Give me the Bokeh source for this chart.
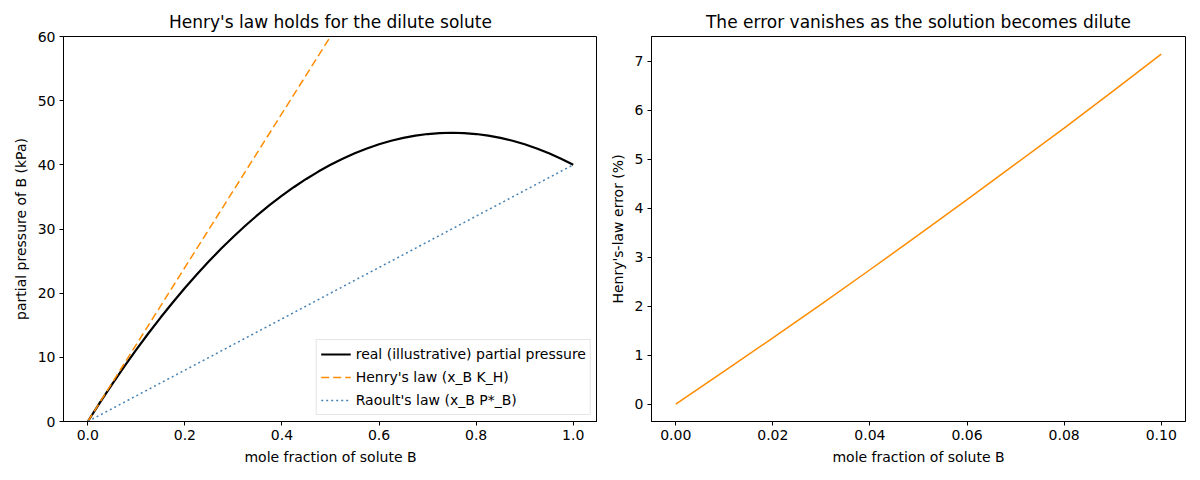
from bokeh.plotting import figure
from bokeh.layouts import row
from bokeh.models import FixedTicker, NumeralTickFormatter, Legend, LegendItem, Range1d
from bokeh.embed import file_html
from bokeh.resources import INLINE

# mole fraction of solute B and real partial pressure (kPa)
x_B = [0.0, 0.025, 0.05, 0.075, 0.10, 0.125, 0.15, 0.175, 0.20, 0.225, 0.25,
       0.275, 0.30, 0.325, 0.35, 0.375, 0.40, 0.425, 0.45, 0.475, 0.50,
       0.525, 0.55, 0.575, 0.60, 0.625, 0.65, 0.675, 0.70, 0.725, 0.75,
       0.775, 0.80, 0.825, 0.85, 0.875, 0.90, 0.925, 0.95, 0.975, 1.0]
p_real = [0.0, 2.95, 5.8, 8.55, 11.2, 13.75, 16.2, 18.55, 20.8, 22.95, 25.0,
          26.95, 28.8, 30.55, 32.2, 33.75, 35.2, 36.55, 37.8, 38.95, 40.0,
          40.95, 41.8, 42.55, 43.2, 43.75, 44.2, 44.55, 44.8, 44.95, 45.0,
          44.95, 44.8, 44.55, 44.2, 43.75, 43.2, 42.55, 41.8, 40.95, 40.0]

# straight-line laws (end points)
henry_x = [0.0, 1.0]
henry_p = [0.0, 120.0]
raoult_x = [0.0, 1.0]
raoult_p = [0.0, 40.0]

# Henry's-law error for the dilute end
x_dilute = [0.0, 0.01, 0.02, 0.03, 0.04, 0.05, 0.06, 0.07, 0.08, 0.09, 0.10]
err_pct = [0.0, 0.67, 1.35, 2.04, 2.74, 3.45, 4.17, 4.90, 5.63, 6.38, 7.14]

FONT = "DejaVu Sans"


def estilo(p, titulo, eixo_x, eixo_y):
    p.title.text = titulo
    p.title.text_font = FONT
    p.title.text_font_size = "17px"
    p.title.text_font_style = "normal"
    p.title.text_color = "black"
    p.title.align = "center"
    p.title.offset = 0
    p.grid.visible = False
    p.outline_line_color = "black"
    p.outline_line_width = 1
    p.background_fill_color = "white"
    p.border_fill_color = "white"
    p.xaxis.axis_label = eixo_x
    p.yaxis.axis_label = eixo_y
    for ax in p.xaxis + p.yaxis:
        ax.axis_label_text_font = FONT
        ax.axis_label_text_font_size = "14px"
        ax.axis_label_text_font_style = "normal"
        ax.axis_label_text_color = "black"
        ax.axis_label_standoff = 6
        ax.major_label_text_font = FONT
        ax.major_label_text_font_size = "14px"
        ax.major_label_text_color = "black"
        ax.major_label_standoff = 4
        ax.major_tick_in = 0
        ax.major_tick_out = 4
        ax.minor_tick_out = 0
        ax.minor_tick_in = 0
        ax.axis_line_color = "black"
        ax.major_tick_line_color = "black"


esquerda = figure(width=597, height=472, output_backend="svg", toolbar_location=None,
                  x_range=Range1d(-0.05, 1.05), y_range=Range1d(0, 60),
                  min_border_left=63, min_border_right=0, min_border_top=36, min_border_bottom=51)
estilo(esquerda, "Henry's law holds for the dilute solute", "mole fraction of solute B",
       "partial pressure of B (kPa)")
esquerda.xaxis.ticker = FixedTicker(ticks=[0.0, 0.2, 0.4, 0.6, 0.8, 1.0])
esquerda.xaxis.formatter = NumeralTickFormatter(format="0.0")
esquerda.yaxis.ticker = FixedTicker(ticks=[0, 10, 20, 30, 40, 50, 60])

r_real = esquerda.line(x_B, p_real, line_color="black", line_width=2.2)
r_henry = esquerda.line(henry_x, henry_p, line_color="#ff8c00", line_width=1.5, line_dash="8 4")
r_raoult = esquerda.line(raoult_x, raoult_p, line_color="#4682b4", line_width=1.5, line_dash="2 3")

legenda = Legend(items=[
    LegendItem(label="real (illustrative) partial pressure", renderers=[r_real]),
    LegendItem(label="Henry's law (x_B K_H)", renderers=[r_henry]),
    LegendItem(label="Raoult's law (x_B P*_B)", renderers=[r_raoult]),
], location="bottom_right")
legenda.label_text_font = FONT
legenda.label_text_font_size = "14px"
legenda.label_text_color = "black"
legenda.border_line_color = "#cccccc"
legenda.border_line_width = 1
legenda.background_fill_alpha = 0.8
legenda.glyph_width = 30
legenda.glyph_height = 20
legenda.label_height = 20
legenda.spacing = 3
legenda.padding = 4
legenda.margin = 6
esquerda.add_layout(legenda)

direita = figure(width=595, height=472, output_backend="svg", toolbar_location=None,
                 x_range=Range1d(-0.005, 0.105), y_range=Range1d(-0.357, 7.5),
                 min_border_left=54, min_border_right=7, min_border_top=36, min_border_bottom=51)
estilo(direita, "The error vanishes as the solution becomes dilute", "mole fraction of solute B",
       "Henry's-law error (%)")
direita.xaxis.ticker = FixedTicker(ticks=[0.0, 0.02, 0.04, 0.06, 0.08, 0.10])
direita.xaxis.formatter = NumeralTickFormatter(format="0.00")
direita.yaxis.ticker = FixedTicker(ticks=[0, 1, 2, 3, 4, 5, 6, 7])
direita.line(x_dilute, err_pct, line_color="#ff8c00", line_width=1.5)

p = row(esquerda, direita)
open("out.html", "w").write(file_html(p, INLINE))
